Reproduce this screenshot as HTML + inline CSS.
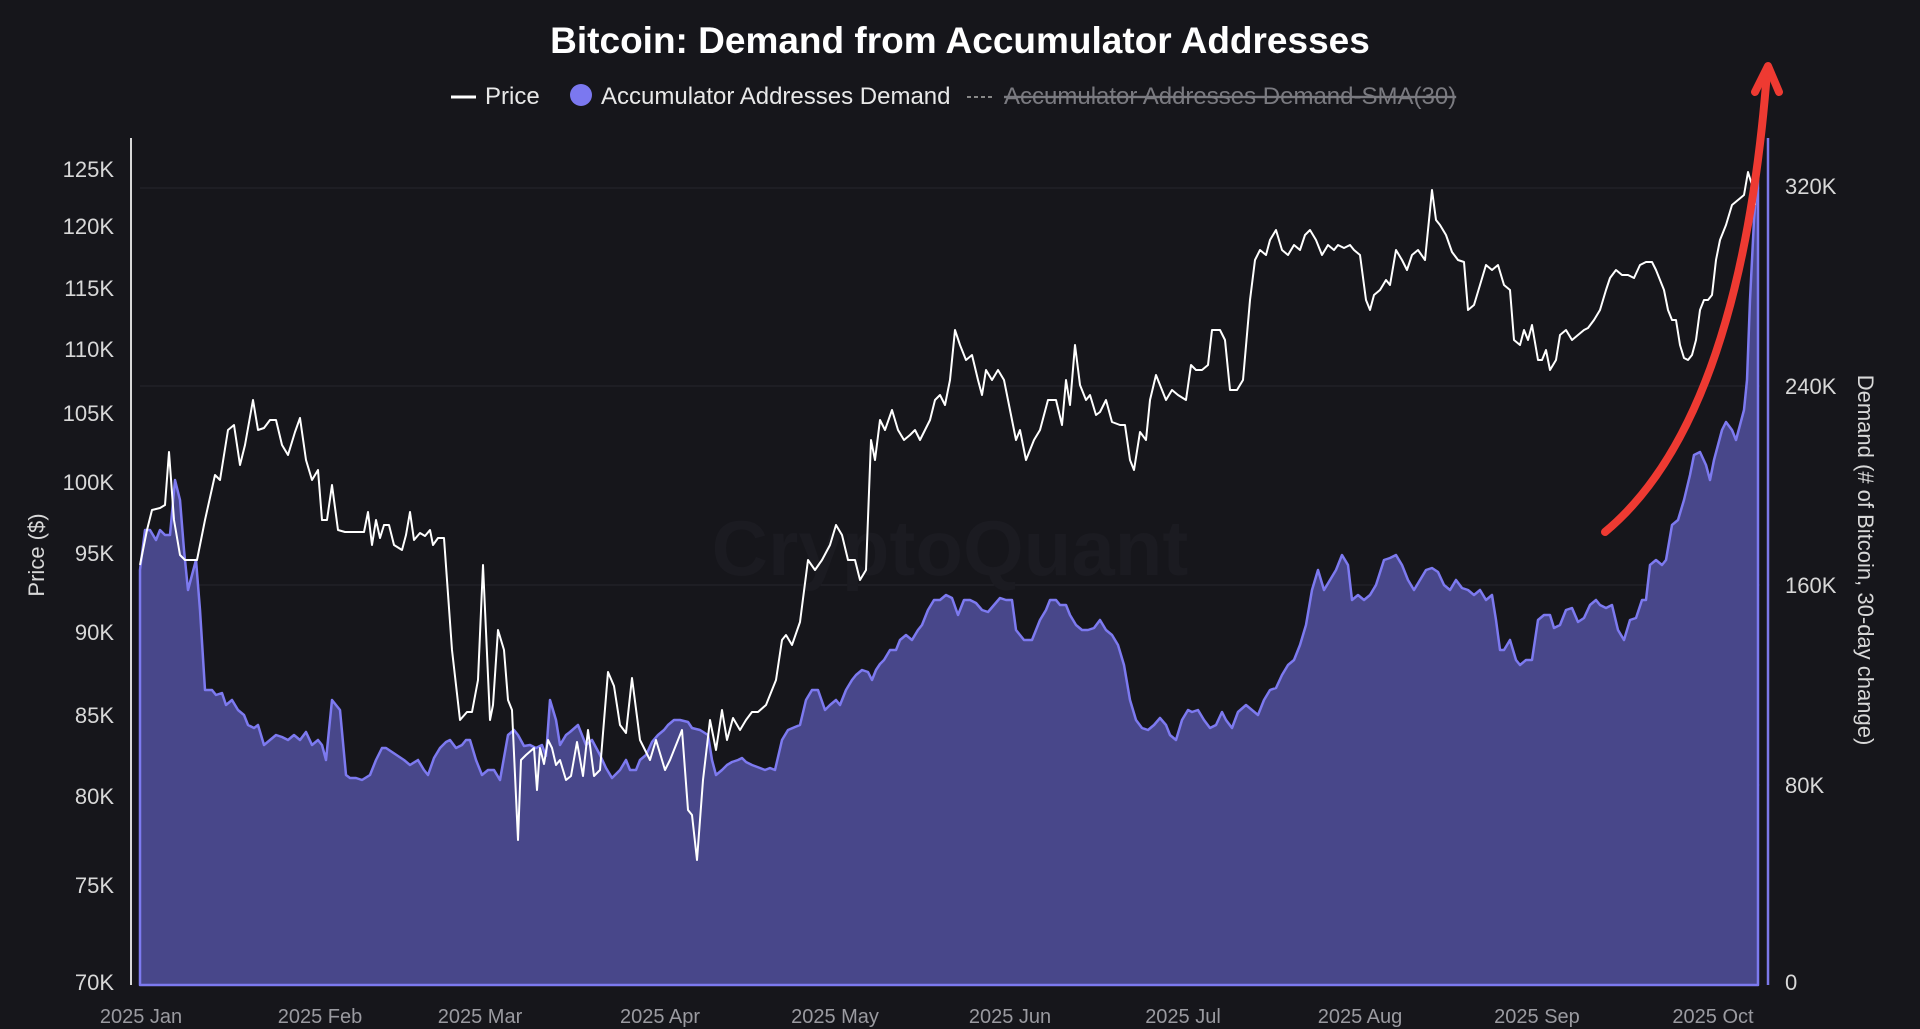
<!DOCTYPE html>
<html><head><meta charset="utf-8"><style>
html,body{margin:0;padding:0;background:#16161b;}
svg{display:block;font-family:"Liberation Sans",sans-serif;}
</style></head><body>
<svg width="1920" height="1029" viewBox="0 0 1920 1029" xmlns="http://www.w3.org/2000/svg">
<rect width="1920" height="1029" fill="#16161b"/>
<text x="960" y="53" text-anchor="middle" fill="#ffffff" font-size="37" font-weight="bold">Bitcoin: Demand from Accumulator Addresses</text>
<line x1="451" y1="97" x2="476" y2="97" stroke="#fff" stroke-width="3"/>
<text x="485" y="104" fill="#e8e8e8" font-size="24">Price</text>
<circle cx="581" cy="95" r="11" fill="#7b78f0"/>
<text x="601" y="104" fill="#e8e8e8" font-size="24">Accumulator Addresses Demand</text>
<line x1="967" y1="97" x2="993" y2="97" stroke="#888" stroke-width="2" stroke-dasharray="4,3"/>
<text x="1004" y="104" fill="#7a7a80" font-size="24" text-decoration="line-through">Accumulator Addresses Demand-SMA(30)</text>
<g stroke="#26262d" stroke-width="1">
<line x1="140" y1="188" x2="1760" y2="188"/><line x1="140" y1="386" x2="1760" y2="386"/>
<line x1="140" y1="585" x2="1760" y2="585"/><line x1="140" y1="785" x2="1760" y2="785"/>
</g>
<text x="950" y="575" text-anchor="middle" fill="#1b1b21" font-size="78" font-weight="bold">CryptoQuant</text>
<line x1="131" y1="138" x2="131" y2="985" stroke="#d8d8d8" stroke-width="2"/>
<g fill="#d8d8d8" font-size="22" text-anchor="end">
<text x="114" y="177">125K</text><text x="114" y="234">120K</text><text x="114" y="296">115K</text><text x="114" y="357">110K</text><text x="114" y="421">105K</text><text x="114" y="490">100K</text><text x="114" y="561">95K</text><text x="114" y="640">90K</text><text x="114" y="723">85K</text><text x="114" y="804">80K</text><text x="114" y="893">75K</text><text x="114" y="990">70K</text>
</g>
<g fill="#d8d8d8" font-size="22">
<text x="1785" y="194">320K</text><text x="1785" y="394">240K</text><text x="1785" y="593">160K</text><text x="1785" y="793">80K</text><text x="1785" y="990">0</text>
</g>
<text transform="translate(44,555) rotate(-90)" text-anchor="middle" fill="#d8d8d8" font-size="22">Price ($)</text>
<text transform="translate(1858,560) rotate(90)" text-anchor="middle" fill="#d8d8d8" font-size="22">Demand (# of Bitcoin, 30-day change)</text>
<g fill="#9a9aa0" font-size="20" text-anchor="middle">
<text x="141" y="1023">2025 Jan</text><text x="320" y="1023">2025 Feb</text><text x="480" y="1023">2025 Mar</text><text x="660" y="1023">2025 Apr</text><text x="835" y="1023">2025 May</text><text x="1010" y="1023">2025 Jun</text><text x="1183" y="1023">2025 Jul</text><text x="1360" y="1023">2025 Aug</text><text x="1537" y="1023">2025 Sep</text><text x="1713" y="1023">2025 Oct</text>
</g>
<path fill="#48478a" stroke="#7d7af0" stroke-width="2.5" stroke-linejoin="round" d="M140,985 L140,570 145,530 150,530 156,540 160,530 165,535 170,535 175,480 180,500 184,550 188,590 192,575 196,560 200,610 205,690 212,690 216,695 222,693 226,705 232,700 238,710 244,715 248,725 254,728 258,725 264,745 270,740 276,735 282,737 288,740 294,735 300,740 306,732 312,745 318,740 322,745 326,760 332,700 336,705 340,710 346,775 350,778 356,778 362,780 370,775 376,760 382,748 386,748 392,752 398,756 404,760 410,765 418,760 424,770 428,775 434,758 440,748 446,742 450,740 456,748 462,745 466,740 470,740 476,760 482,775 488,770 494,770 500,780 508,735 514,730 518,735 524,746 530,745 536,748 542,745 546,756 550,700 556,720 560,745 566,735 570,732 578,725 586,745 592,740 600,755 606,768 612,778 620,770 626,760 630,770 636,770 640,760 646,755 652,742 658,735 664,730 668,725 674,720 680,720 688,722 692,728 700,730 708,735 712,760 716,775 722,770 727,765 732,762 738,760 742,758 746,762 752,765 760,768 765,770 770,768 775,770 782,740 788,730 795,727 800,725 806,700 812,690 818,690 825,710 830,705 836,700 840,705 846,690 852,680 856,675 862,670 868,672 872,680 876,670 880,664 884,660 890,650 896,650 900,640 906,635 912,640 918,630 922,625 928,610 934,600 940,600 946,595 952,598 958,615 964,600 970,600 976,603 982,610 988,612 994,605 1000,598 1006,600 1012,600 1016,630 1024,640 1032,640 1040,620 1046,610 1050,600 1056,600 1060,605 1066,605 1070,615 1076,625 1082,630 1088,630 1094,628 1100,620 1106,630 1112,635 1118,645 1124,665 1130,700 1136,720 1142,728 1148,730 1154,725 1160,718 1166,725 1170,735 1176,740 1182,720 1188,710 1192,712 1198,710 1204,720 1210,728 1216,725 1222,712 1226,720 1232,728 1238,712 1246,705 1252,710 1258,715 1264,700 1270,690 1276,688 1282,675 1288,665 1294,660 1300,645 1306,625 1312,590 1318,570 1324,590 1330,580 1336,570 1342,555 1348,565 1352,600 1358,595 1364,600 1370,595 1376,585 1384,560 1390,558 1396,555 1402,565 1408,580 1414,590 1420,580 1426,570 1432,568 1438,572 1444,585 1450,590 1456,580 1462,588 1468,590 1474,595 1480,590 1486,600 1492,595 1496,620 1500,650 1504,650 1510,640 1516,660 1520,665 1526,660 1532,660 1538,620 1544,615 1550,615 1554,628 1560,625 1566,610 1572,608 1578,622 1584,618 1590,605 1596,600 1600,605 1606,608 1612,605 1618,630 1624,640 1630,620 1636,618 1642,600 1646,600 1650,565 1656,560 1662,565 1666,560 1672,525 1678,520 1684,500 1690,475 1694,455 1700,452 1706,465 1710,480 1714,460 1718,445 1722,430 1726,422 1732,430 1736,440 1740,425 1744,410 1747,380 1750,300 1754,220 1757,180 1758,177 L1758,985 Z"/>
<line x1="1768" y1="138" x2="1768" y2="985" stroke="#7b78e8" stroke-width="2.5"/>
<polyline fill="none" stroke="#ffffff" stroke-width="2" stroke-linejoin="round" points="140,565 147,530 152,510 160,508 165,505 169,452 174,520 180,555 185,560 192,560 197,560 205,520 215,475 220,480 228,430 234,425 240,465 245,445 253,400 258,430 264,428 270,420 276,420 282,445 288,455 295,432 300,418 306,460 312,480 318,470 322,520 327,520 332,485 338,530 345,532 355,532 364,532 368,512 372,545 376,520 380,538 384,525 389,525 394,545 402,550 406,535 410,512 414,540 420,533 425,536 430,530 433,545 438,538 444,538 452,650 460,720 467,712 472,712 478,680 483,565 490,720 493,705 498,630 504,650 508,700 512,710 518,840 521,760 526,755 534,748 537,790 540,748 544,764 548,740 552,748 556,765 560,760 566,780 571,776 577,742 583,776 588,730 594,776 600,770 608,672 614,686 620,725 626,733 632,678 640,740 650,760 656,740 665,770 670,760 676,745 682,730 688,810 692,815 697,860 703,780 710,720 716,750 722,710 727,740 733,718 740,730 746,720 752,712 758,712 766,705 776,680 782,640 786,635 792,645 800,622 808,560 815,570 822,560 830,545 836,525 842,535 848,560 855,560 860,580 866,570 871,440 875,460 880,420 885,430 892,410 898,430 904,440 910,435 915,430 920,440 930,420 935,400 940,395 945,405 950,380 955,330 960,345 966,360 972,355 978,380 982,395 986,370 992,380 998,370 1004,380 1010,410 1016,440 1020,430 1026,460 1034,440 1040,430 1048,400 1056,400 1062,425 1066,380 1070,405 1075,345 1080,385 1086,400 1090,395 1096,415 1100,412 1106,400 1112,422 1120,425 1125,425 1130,460 1134,470 1140,432 1146,440 1150,400 1156,375 1160,385 1166,400 1172,390 1178,395 1186,400 1191,365 1196,370 1202,370 1208,365 1212,330 1220,330 1225,340 1230,390 1237,390 1243,380 1250,300 1255,260 1260,250 1266,255 1270,240 1276,230 1282,250 1288,255 1294,245 1300,250 1305,235 1310,230 1316,240 1322,255 1328,245 1334,250 1338,245 1344,248 1350,245 1354,250 1360,255 1366,300 1370,310 1374,295 1380,290 1386,280 1390,285 1396,250 1402,260 1407,270 1412,255 1418,250 1425,260 1432,190 1436,220 1440,225 1446,235 1452,252 1458,260 1464,262 1468,310 1474,305 1480,285 1486,265 1492,270 1498,265 1504,285 1510,290 1514,340 1520,345 1524,330 1528,340 1532,325 1538,360 1542,360 1546,350 1550,370 1556,360 1560,335 1566,330 1572,340 1578,335 1584,330 1588,328 1594,320 1600,310 1606,290 1610,278 1616,270 1622,275 1628,275 1634,278 1640,265 1646,262 1652,262 1656,270 1660,280 1664,290 1668,310 1672,320 1676,320 1680,345 1684,358 1688,360 1692,355 1696,340 1700,310 1704,300 1708,300 1712,295 1716,260 1720,240 1726,225 1732,205 1738,200 1744,195 1748,172 1752,185 1755,205"/>
<path d="M1605,532 Q1740,420 1767,72" fill="none" stroke="#ee3a32" stroke-width="8" stroke-linecap="round"/>
<path d="M1755,92 L1768,66 L1779,92" fill="none" stroke="#ee3a32" stroke-width="8" stroke-linecap="round" stroke-linejoin="round"/>
</svg>
</body></html>
